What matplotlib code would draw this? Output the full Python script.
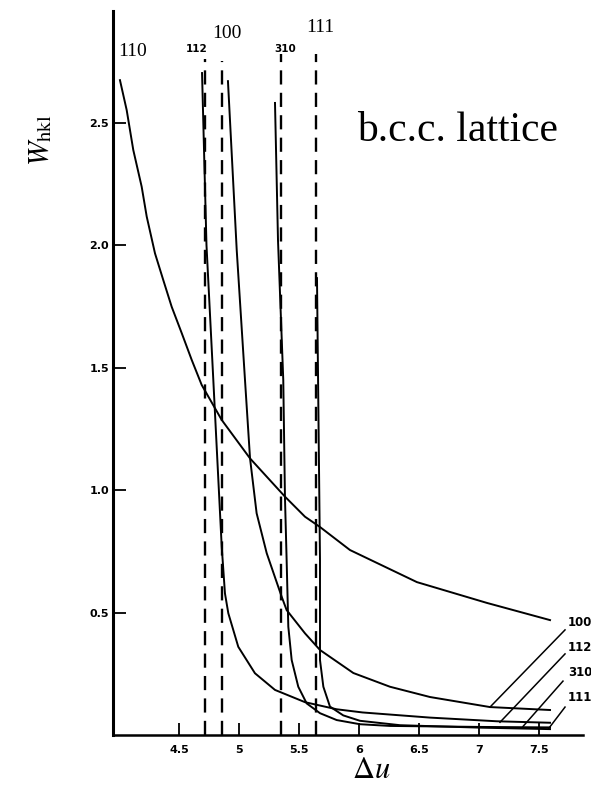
import numpy as np
import matplotlib
matplotlib.use("Agg")
import matplotlib.pyplot as plt

plt.rcParams['mathtext.fontset'] = 'stix'

# curves: (delta u, W_hkl)
x_110 = [4.008, 4.064, 4.119, 4.189, 4.231, 4.300, 4.369, 4.439, 4.523, 4.606, 4.689, 4.856,
         5.092, 5.383, 5.55, 5.675, 5.925, 6.483, 7.067, 7.592]
w_110 = [2.673, 2.551, 2.388, 2.238, 2.116, 1.966, 1.857, 1.748, 1.640, 1.531, 1.429, 1.286,
         1.129, 0.973, 0.891, 0.849, 0.755, 0.624, 0.539, 0.469]

x_100 = [4.908, 4.981, 5.05, 5.092, 5.147, 5.231, 5.356, 5.397, 5.55, 5.675, 5.953, 6.258,
         6.592, 7.092, 7.592]
w_100 = [2.669, 1.980, 1.449, 1.129, 0.905, 0.742, 0.564, 0.510, 0.415, 0.347, 0.253, 0.197,
         0.155, 0.114, 0.102]

x_112 = [4.692, 4.729, 4.786, 4.828, 4.856, 4.883, 4.911, 4.994, 5.133, 5.300, 5.55, 5.814,
         6.03, 6.592, 7.15, 7.592]
w_112 = [2.702, 2.0, 1.449, 1.041, 0.769, 0.578, 0.497, 0.360, 0.252, 0.184, 0.134, 0.105,
         0.092, 0.071, 0.056, 0.050]

x_310 = [5.30, 5.325, 5.369, 5.383, 5.397, 5.411, 5.439, 5.494, 5.564, 5.675, 5.814, 6.008,
         6.258, 7.0, 7.592]
w_310 = [2.58, 2.02, 1.449, 0.971, 0.714, 0.442, 0.306, 0.197, 0.129, 0.089, 0.061, 0.044,
         0.037, 0.033, 0.031]

x_111 = [5.65, 5.675, 5.675, 5.703, 5.758, 5.869, 6.008, 6.342, 7.008, 7.592]
w_111 = [1.865, 0.714, 0.306, 0.197, 0.116, 0.080, 0.058, 0.040, 0.030, 0.024]

# dashed limits (delta u where W -> infinity)
asym_x = [4.72, 4.86, 5.35, 5.645]
asym_top = [2.76, 2.75, 2.78, 2.78]

xticks = [4.5, 5, 5.5, 6, 6.5, 7, 7.5]
xtick_labels = ['4.5', '5', '5.5', '6', '6.5', '7', '7.5']
yticks = [0.5, 1.0, 1.5, 2.0, 2.5]
ytick_labels = ['0.5', '1.0', '1.5', '2.0', '2.5']

fig = plt.figure(figsize=(5.91, 7.91), dpi=100)
ax = fig.add_axes([0.1912, 0.0708, 0.7953, 0.9152])

for xs, ws in [(x_110, w_110), (x_100, w_100), (x_112, w_112), (x_310, w_310), (x_111, w_111)]:
    ax.plot(xs, ws, color='black', lw=1.4)

for xa, top in zip(asym_x, asym_top):
    ax.plot([xa, xa], [0, top], color='black', lw=1.7, linestyle=(0, (6, 3.5)))

ax.set_xlim(3.95, 7.867)
ax.set_ylim(0, 2.955)
ax.spines['top'].set_visible(False)
ax.spines['right'].set_visible(False)
ax.spines['left'].set_linewidth(2.2)
ax.spines['bottom'].set_linewidth(1.8)

ax.set_xticks(xticks)
ax.set_xticklabels(xtick_labels, fontsize=8, fontweight='bold')
ax.set_yticks(yticks)
ax.set_yticklabels(ytick_labels, fontsize=8, fontweight='bold')
ax.tick_params(axis='both', direction='in', length=9, width=1.3)
ax.tick_params(axis='x', pad=7)
ax.tick_params(axis='y', pad=3)

# labels at top of curves
ax.text(4.117, 2.79, '110', family='Liberation Serif', fontsize=14, ha='center', va='center')
ax.text(4.90, 2.865, '100', family='Liberation Serif', fontsize=14, ha='center', va='center')
ax.text(5.675, 2.886, '111', family='Liberation Serif', fontsize=14, ha='center', va='center')
ax.text(4.65, 2.80, '112', fontsize=7.5, fontweight='bold', ha='center', va='center')
ax.text(5.383, 2.80, '310', fontsize=7.5, fontweight='bold', ha='center', va='center')

# labels with leader lines on the right
right_labels = ['100', '112', '310', '111']
label_y = [0.461, 0.359, 0.257, 0.155]
leader_start = [(7.717, 0.429), (7.717, 0.331), (7.70, 0.22), (7.717, 0.114)]
leader_end = [(7.092, 0.114), (7.175, 0.052), (7.367, 0.035), (7.58, 0.026)]
for lab, ly, s, e in zip(right_labels, label_y, leader_start, leader_end):
    ax.text(7.74, ly, lab, fontsize=8.5, fontweight='bold', ha='left', va='center', clip_on=False)
    ax.plot([s[0], e[0]], [s[1], e[1]], color='black', lw=1.1, clip_on=False)

ax.text(6.825, 2.465, 'b.c.c. lattice', family='Liberation Serif', fontsize=30, ha='center', va='center')

fig.text(0.068, 0.823, r'$W_{\mathrm{hkl}}$', fontsize=21, rotation=90, ha='center', va='center')
fig.text(0.628, 0.027, r'$\Delta u$', fontsize=22, ha='center', va='center')

fig.savefig('out.png', dpi=100)
